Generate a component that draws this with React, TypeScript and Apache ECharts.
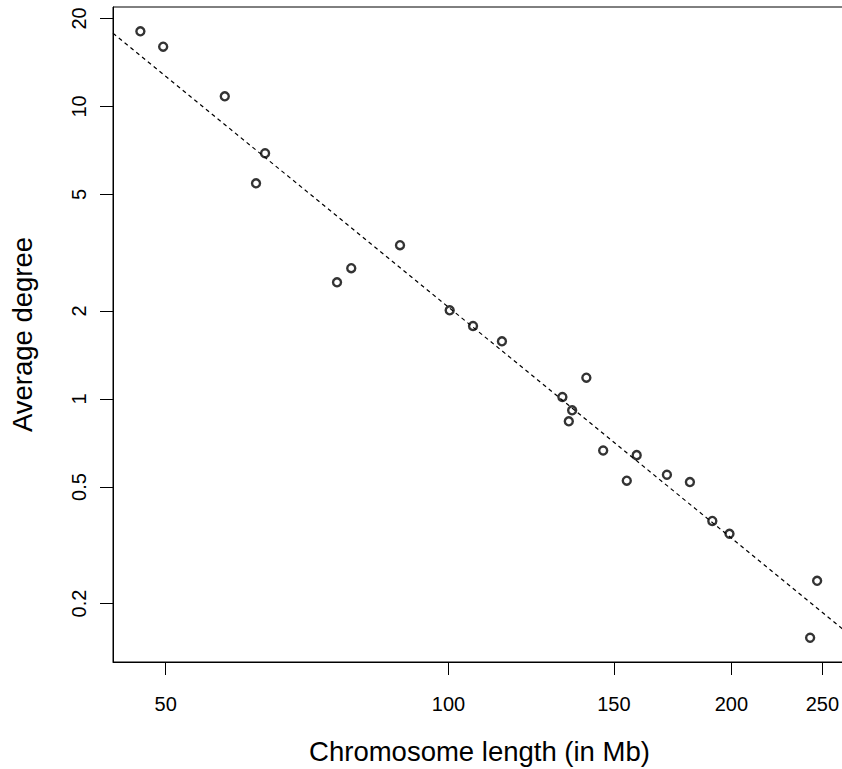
import React, { useEffect, useRef } from "react";
import * as echarts from "echarts";

// Chromosome length (Mb) and average degree
const lengthsMb = [
  47.0, 49.7, 57.8, 63.8, 62.4, 76.1, 78.8, 88.8, 100.3, 106.2, 114.0, 132.2,
  140.2, 135.4, 134.3, 146.1, 158.6, 154.8, 170.8, 180.7, 190.9, 199.1, 246.8, 242.6,
];
const avgDegree = [
  18.07, 16.01, 10.83, 6.92, 5.46, 2.506, 2.801, 3.357, 2.01, 1.776, 1.575, 1.016,
  1.183, 0.915, 0.839, 0.667, 0.643, 0.526, 0.551, 0.52, 0.383, 0.346, 0.239, 0.1527,
];

// log-log axis ticks
const xTickValues = [50, 100, 150, 200, 250];
const yTickValues = [0.2, 0.5, 1, 2, 5, 10, 20];

// axis extents (in data units)
const xRange = [43.95, 264.9];
const yRange = [0.1262, 21.88];

// fitted line: log10(y) = fitIntercept + fitSlope * log10(x)
const fitIntercept = 5.558;
const fitSlope = -2.622;

const lg = (v: number) => Math.log10(v);
const fmt = (v: number) => String(Number(Math.pow(10, v).toPrecision(3)));

const FONT = "'Liberation Sans', Arial, Helvetica, sans-serif";

export default function App() {
  const ref = useRef<HTMLDivElement>(null);
  useEffect(() => {
    if (!ref.current) return;
    const chart = echarts.init(ref.current, undefined, { renderer: "svg" });
    const xMin = lg(xRange[0]);
    const xMax = lg(xRange[1]);
    const yMin = lg(yRange[0]);
    const yMax = lg(yRange[1]);
    const points = lengthsMb.map((x, i) => [lg(x), lg(avgDegree[i])]);
    const fitLine = [xMin, xMax].map((lx) => [lx, fitIntercept + fitSlope * lx]);
    const xTicks = xTickValues.map(lg);
    const yTicks = yTickValues.map(lg);
    chart.setOption({
      animation: false,
      backgroundColor: "#ffffff",
      textStyle: { fontFamily: FONT, color: "#000" },
      grid: {
        left: 113,
        right: -4,
        top: 7,
        bottom: 107,
        show: true,
        borderColor: "#000",
        borderWidth: 1,
        containLabel: false,
        outerBoundsMode: "none",
      },
      xAxis: {
        type: "value",
        min: xMin,
        max: xMax,
        name: "Chromosome length (in Mb)",
        nameLocation: "middle",
        nameGap: 75,
        nameTextStyle: { fontSize: 27.5, color: "#000", fontFamily: FONT },
        axisLine: { show: true, onZero: false, lineStyle: { color: "#000", width: 1 } },
        axisTick: {
          show: true,
          length: 13,
          customValues: xTicks,
          lineStyle: { color: "#000", width: 1 },
        },
        axisLabel: {
          show: true,
          customValues: xTicks,
          margin: 32,
          fontSize: 20,
          color: "#000",
          fontFamily: FONT,
          formatter: (v: number) => fmt(v),
        },
        splitLine: { show: false },
      },
      yAxis: {
        type: "value",
        min: yMin,
        max: yMax,
        name: "Average degree",
        nameLocation: "middle",
        nameGap: 77,
        nameRotate: 90,
        nameTextStyle: { fontSize: 27.5, color: "#000", fontFamily: FONT },
        axisLine: { show: true, onZero: false, lineStyle: { color: "#000", width: 1 } },
        axisTick: {
          show: true,
          length: 13,
          customValues: yTicks,
          lineStyle: { color: "#000", width: 1 },
        },
        axisLabel: {
          show: true,
          customValues: yTicks,
          rotate: 90,
          margin: 24,
          fontSize: 20,
          color: "#000",
          fontFamily: FONT,
          formatter: (v: number) => fmt(v),
        },
        splitLine: { show: false },
      },
      series: [
        {
          type: "scatter",
          data: points,
          symbol: "circle",
          symbolSize: 8,
          itemStyle: { color: "transparent", borderColor: "#000", borderWidth: 2.4 },
          z: 2,
        },
        {
          type: "line",
          data: fitLine,
          showSymbol: false,
          symbol: "none",
          clip: true,
          lineStyle: { color: "#000", width: 1.2, type: [4, 3.5] },
          z: 3,
        },
      ],
    });
    return () => chart.dispose();
  }, []);
  return (
    <div
      ref={ref}
      style={{ position: "fixed", left: 0, top: 0, width: 842, height: 769, background: "#fff" }}
    />
  );
}
